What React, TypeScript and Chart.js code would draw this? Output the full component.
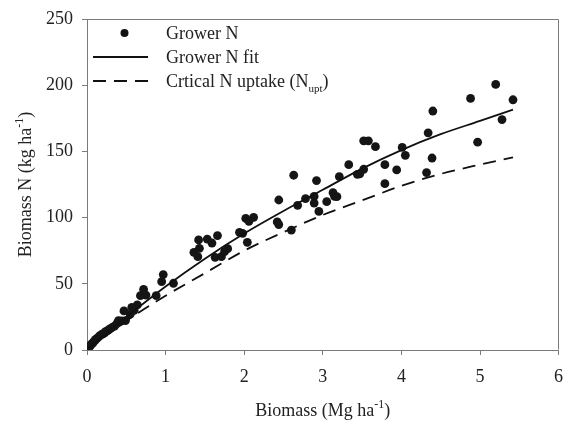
import React, { useEffect, useRef } from "react";
import { Chart, registerables } from "chart.js";

Chart.register(...registerables);

// Grower N observations (biomass Mg/ha, biomass N kg/ha)
const growerX = [
  5.2, 4.88, 5.42, 5.28, 4.97, 4.4, 4.34, 4.39, 4.32, 4.01, 4.05, 3.79, 3.94, 3.79, 3.67,
  3.52, 3.58, 3.52, 3.44, 3.47, 3.33, 3.21, 3.18, 3.13, 3.15, 3.05, 2.92, 2.89, 2.89, 2.95,
  2.78, 2.68, 2.63, 2.6, 2.44, 2.42, 2.44, 2.12, 2.02, 2.06, 2.04, 1.94, 1.98, 1.66, 1.53,
  1.59, 1.42, 1.43, 1.36, 1.41, 1.63, 1.71, 1.75, 1.79, 0.97, 0.95, 1.1, 0.88, 0.72, 0.68,
  0.75, 0.64, 0.57, 0.6, 0.55, 0.47, 0.49, 0.4, 0.44, 0.41, 0.38, 0.35, 0.32, 0.29, 0.27,
  0.24, 0.22, 0.19, 0.17, 0.15, 0.13, 0.11, 0.1, 0.08, 0.07, 0.05, 0.04, 0.02, 0.01,
];
const growerY = [
  200.6, 190, 189, 174, 157, 180.5, 164, 145, 134, 153, 147, 140, 136, 125.6, 153.6,
  158, 158, 136.5, 132.7, 133, 140, 131, 115.8, 118.8, 116, 112, 128, 116, 111, 104.7,
  114.3, 109.3, 132, 90.6, 113.3, 96.7, 94.7, 100.2, 99.4, 97.2, 81.3, 88.9, 88.1, 86.4, 83.8,
  80.8, 83.1, 76.8, 73.8, 70.5, 70, 70.5, 74.3, 76.5, 57, 51.6, 50.4, 41, 45.8, 41,
  41.5, 34, 32.2, 30, 27, 29.5, 22.2, 22.2, 22, 21, 20, 18, 17, 16, 15,
  14, 13, 12, 11, 10, 9, 8, 7, 6, 5, 4, 3, 2, 1,
];

// Curves
const curveX = [0, 0.25, 0.5, 1, 1.5, 2, 2.5, 3, 3.5, 4, 4.5, 5, 5.42];
const fitY = [0, 13, 25, 48, 69, 88, 105, 121, 137, 151, 163, 173, 181.5];
const nuptY = [0, 11, 22, 41, 58, 75, 89, 102, 113, 124, 133, 140, 145.5];

const xTicks = [0, 1, 2, 3, 4, 5, 6];
const yTicks = [0, 50, 100, 150, 200, 250];

const FONT = "'Liberation Serif', 'Times New Roman', serif";
const TEXT = "#222";
const AXIS = "#7a7a7a";

type Part = { t: string; mode?: "sup" | "sub" };

function richWidth(ctx: CanvasRenderingContext2D, parts: Part[], size: number, small: number) {
  let w = 0;
  for (const p of parts) {
    ctx.font = `${p.mode ? small : size}px ${FONT}`;
    w += ctx.measureText(p.t).width;
  }
  return w;
}

function drawRich(
  ctx: CanvasRenderingContext2D,
  parts: Part[],
  x: number,
  y: number,
  size: number,
  small: number,
  align: "left" | "center"
) {
  const total = richWidth(ctx, parts, size, small);
  let cx = align === "center" ? x - total / 2 : x;
  ctx.textAlign = "left";
  ctx.textBaseline = "alphabetic";
  for (const p of parts) {
    ctx.font = `${p.mode ? small : size}px ${FONT}`;
    const dy = p.mode === "sup" ? -size * 0.42 : p.mode === "sub" ? size * 0.28 : 0;
    ctx.fillText(p.t, cx, y + dy);
    cx += ctx.measureText(p.t).width;
  }
}

const decorPlugin = {
  id: "decor",
  afterDraw(chart: any) {
    const ctx: CanvasRenderingContext2D = chart.ctx;
    const a = chart.chartArea;
    ctx.save();
    // frame top/right
    ctx.strokeStyle = AXIS;
    ctx.lineWidth = 1;
    ctx.beginPath();
    ctx.moveTo(Math.round(a.left) + 0.5, Math.round(a.top) + 0.5);
    ctx.lineTo(Math.round(a.right) - 0.5, Math.round(a.top) + 0.5);
    ctx.lineTo(Math.round(a.right) - 0.5, Math.round(a.bottom) - 0.5);
    ctx.stroke();

    ctx.fillStyle = TEXT;
    // x title
    drawRich(
      ctx,
      [{ t: "Biomass (Mg ha" }, { t: "-1", mode: "sup" }, { t: ")" }],
      (a.left + a.right) / 2,
      416,
      18,
      12,
      "center"
    );
    // y title
    ctx.save();
    ctx.translate(31, (a.top + a.bottom) / 2);
    ctx.rotate(-Math.PI / 2);
    drawRich(
      ctx,
      [{ t: "Biomass N (kg ha" }, { t: "-1", mode: "sup" }, { t: ")" }],
      0,
      0,
      18,
      12,
      "center"
    );
    ctx.restore();

    // legend
    const lx0 = 93;
    const lx1 = 148;
    const tx = 166;
    const rows = [33, 57, 81];
    ctx.fillStyle = "#111";
    ctx.beginPath();
    ctx.arc((lx0 + lx1) / 2 + 4, rows[0], 4, 0, Math.PI * 2);
    ctx.fill();
    ctx.strokeStyle = "#111";
    ctx.lineWidth = 1.8;
    ctx.beginPath();
    ctx.moveTo(lx0, rows[1]);
    ctx.lineTo(lx1, rows[1]);
    ctx.stroke();
    ctx.setLineDash([13, 8]);
    ctx.beginPath();
    ctx.moveTo(lx0, rows[2]);
    ctx.lineTo(lx1, rows[2]);
    ctx.stroke();
    ctx.setLineDash([]);
    ctx.fillStyle = TEXT;
    drawRich(ctx, [{ t: "Grower N" }], tx, rows[0] + 6, 18, 11, "left");
    drawRich(ctx, [{ t: "Grower N fit" }], tx, rows[1] + 6, 18, 11, "left");
    drawRich(
      ctx,
      [{ t: "Crtical N uptake (N" }, { t: "upt", mode: "sub" }, { t: ")" }],
      tx,
      rows[2] + 6,
      18,
      11,
      "left"
    );
    ctx.restore();
  },
};

export default function App() {
  const ref = useRef<HTMLCanvasElement | null>(null);

  useEffect(() => {
    document.body.style.margin = "0";
    const canvas = ref.current;
    if (!canvas) return;
    const points = growerX.map((x, i) => ({ x, y: growerY[i] }));
    const fit = curveX.map((x, i) => ({ x, y: fitY[i] }));
    const nupt = curveX.map((x, i) => ({ x, y: nuptY[i] }));

    const chart = new Chart(canvas, {
      type: "scatter",
      data: {
        datasets: [
          {
            label: "Crtical N uptake (Nupt)",
            data: nupt,
            showLine: true,
            borderColor: "#111",
            borderWidth: 1.8,
            borderDash: [13, 8],
            pointRadius: 0,
            cubicInterpolationMode: "monotone",
          },
          {
            label: "Grower N fit",
            data: fit,
            showLine: true,
            borderColor: "#111",
            borderWidth: 1.8,
            pointRadius: 0,
            cubicInterpolationMode: "monotone",
          },
          {
            label: "Grower N",
            data: points,
            showLine: false,
            pointRadius: 4.4,
            pointBackgroundColor: "#151515",
            pointBorderColor: "#151515",
            pointBorderWidth: 0,
          },
        ],
      } as any,
      options: {
        responsive: false,
        animation: false,
        events: [],
        layout: { padding: { left: 0, right: 4, top: 19, bottom: 0 } },
        plugins: { legend: { display: false }, tooltip: { enabled: false } },
        scales: {
          x: {
            type: "linear",
            min: 0,
            max: 6,
            afterFit(scale: any) {
              scale.height = 74;
              scale.paddingRight = 0;
              scale.paddingLeft = 0;
            },
            afterBuildTicks(scale: any) {
              scale.ticks = xTicks.map((v) => ({ value: v }));
            },
            ticks: {
              color: TEXT,
              font: { family: FONT, size: 18 },
              padding: 11,
              maxRotation: 0,
            },
            grid: {
              drawOnChartArea: false,
              drawTicks: true,
              tickLength: 5,
              color: AXIS,
            },
            border: { color: AXIS, width: 1 },
          },
          y: {
            type: "linear",
            min: 0,
            max: 250,
            afterFit(scale: any) {
              scale.width = 87;
              scale.paddingTop = 0;
              scale.paddingBottom = 0;
            },
            afterBuildTicks(scale: any) {
              scale.ticks = yTicks.map((v) => ({ value: v }));
            },
            ticks: {
              color: TEXT,
              font: { family: FONT, size: 18 },
              padding: 9,
            },
            grid: {
              drawOnChartArea: false,
              drawTicks: true,
              tickLength: 5,
              color: AXIS,
            },
            border: { color: AXIS, width: 1 },
          },
        },
      } as any,
      plugins: [decorPlugin],
    });
    return () => chart.destroy();
  }, []);

  return (
    <div style={{ width: 563, height: 424 }}>
      <canvas ref={ref} width={563} height={424} style={{ display: "block" }} />
    </div>
  );
}
